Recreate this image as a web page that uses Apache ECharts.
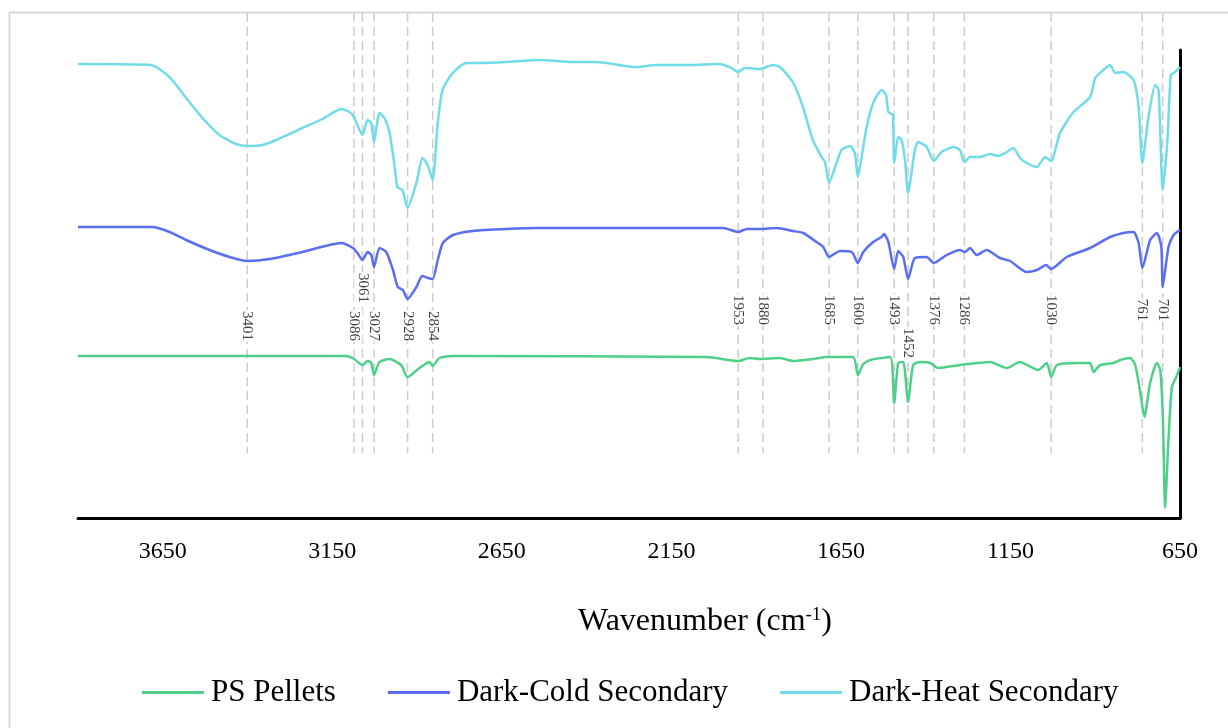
<!DOCTYPE html>
<html>
<head>
<meta charset="utf-8">
<script src="https://cdn.jsdelivr.net/npm/echarts@6/dist/echarts.min.js"></script>
<style>
html,body{margin:0;padding:0;background:#fff;}
#chart{width:1228px;height:728px;}
</style>
</head>
<body>
<div id="chart"></div>
<script>
// ---- data ----
const wavenumberTicks = [650, 1150, 1650, 2150, 2650, 3150, 3650];
const peakWavenumbers = [3401, 3086, 3061, 3027, 2928, 2854, 1953, 1880, 1685, 1600, 1493, 1452, 1376, 1286, 1030, 761, 701];

const psPelletsWn = [3900,3109,3086,3061,3046,3035,3027,3011,2981,2947,2928,2893,2863,2854,2834,2794,2046,1953,1919,1889,1830,1791,1732,1692,1614,1600,1584,1564,1505,1493,1481,1466,1452,1437,1417,1387,1363,1299,1210,1161,1122,1068,1043,1030,1013,954,915,905,885,846,826,797,782,767,755,738,718,708,700,694,684,674,661,650];
const psPelletsVal = [162,162,159,153,157,155,143,156,159,153,141,150,156,152,160,162,161,157,160,159,160,157,159,161,161,143,154,158,161,115,155,156,116,153,156,155,150,153,156,150,156,148,155,141,153,155,155,146,153,155,158,160,153,125,101,135,155,148,95,10,78,131,141,151];

const darkColdWn = [3900,3680,3630,3581,3512,3453,3401,3335,3238,3124,3089,3076,3061,3046,3035,3027,3011,2991,2971,2957,2942,2928,2902,2885,2868,2854,2839,2824,2794,2735,2637,2538,2341,2145,1997,1953,1928,1889,1840,1791,1761,1722,1702,1685,1653,1618,1600,1584,1555,1530,1523,1510,1493,1481,1466,1452,1432,1397,1376,1338,1299,1284,1269,1250,1220,1181,1151,1102,1072,1045,1030,984,915,856,817,787,772,761,738,718,705,701,684,669,650];
const darkColdVal = [291,291,286,278,268,261,257,259,266,275,270,265,258,266,263,251,270,266,248,231,228,219,231,242,240,239,258,275,283,287,289,290,290,290,290,286,289,289,290,287,285,276,271,261,267,266,255,266,276,281,284,276,249,267,261,239,260,261,255,263,268,266,270,263,268,260,257,246,248,253,249,261,270,281,285,286,275,250,278,285,271,231,271,283,288];

const darkHeatWn = [3900,3685,3630,3581,3533,3483,3434,3401,3356,3315,3238,3179,3124,3099,3086,3079,3061,3046,3035,3027,3011,2996,2981,2966,2958,2943,2928,2902,2884,2869,2854,2839,2825,2795,2755,2715,2637,2538,2441,2382,2341,2253,2194,2096,2007,1973,1953,1933,1889,1851,1830,1792,1762,1733,1707,1697,1685,1663,1648,1623,1609,1600,1589,1574,1555,1530,1517,1510,1497,1493,1481,1471,1461,1452,1432,1422,1397,1376,1353,1318,1299,1286,1269,1240,1210,1186,1161,1141,1122,1102,1072,1048,1030,1004,964,915,900,876,856,841,817,787,772,761,743,723,713,701,687,677,664,650];
const darkHeatVal = [454,453,441,420,400,383,374,372,373,378,390,399,409,406,401,395,383,398,395,376,405,400,385,351,331,328,310,335,360,353,338,395,428,445,455,455,456,458,456,456,455,451,453,453,454,450,446,450,449,453,451,436,411,378,361,356,335,355,368,372,365,341,361,391,415,428,423,406,403,355,381,378,358,325,368,376,371,357,366,371,368,356,361,361,364,362,366,370,360,355,351,361,357,385,406,421,440,448,453,445,446,438,411,355,401,433,428,328,378,443,446,451];

const seriesNames = ['PS Pellets', 'Dark-Cold Secondary', 'Dark-Heat Secondary'];

// ---- styles ----
const SERIF = 'Liberation Serif';
const colors = ['#4fd08a', '#5a6ef0', '#70dcea'];
const dashTop = 505, dashBottom = 65;
const labelRow = v => (v === 3061 ? 230 : v === 1452 ? 175 : v > 2800 ? 192 : 208);

const zip = (a, b) => a.map((x, i) => [x, b[i]]);

const curves = [
  zip(psPelletsWn, psPelletsVal),
  zip(darkColdWn, darkColdVal),
  zip(darkHeatWn, darkHeatVal)
].map((d, i) => ({
  name: seriesNames[i],
  type: 'line',
  data: d,
  symbol: 'none',
  smooth: 0.2,
  z: 4,
  lineStyle: { color: colors[i], width: 2.5 },
  itemStyle: { color: colors[i] }
}));

const dashSeries = peakWavenumbers.map(v => ({
  type: 'line',
  data: [[v, dashTop], [v, dashBottom]],
  symbol: 'none',
  clip: false,
  silent: true,
  z: 1,
  lineStyle: { color: '#cccccc', width: 1.5, type: [9, 5] }
}));

const labelSeries = {
  type: 'scatter',
  data: peakWavenumbers.map(v => ({ value: [v, labelRow(v)], name: String(v) })),
  symbolSize: 1,
  itemStyle: { color: 'rgba(0,0,0,0)' },
  silent: true,
  z: 3,
  label: {
    show: true,
    formatter: '{b}',
    position: 'inside',
    rotate: -90,
    fontFamily: SERIF,
    fontSize: 15,
    color: '#111',
    backgroundColor: '#fff',
    padding: [1, 1]
  }
};

const chart = echarts.init(document.getElementById('chart'));
chart.setOption({
  animation: false,
  backgroundColor: '#fff',
  grid: { left: 78, right: 48, top: 50, bottom: 210 },
  xAxis: {
    type: 'value',
    min: 650,
    max: 3900,
    inverse: true,
    axisLine: { onZero: false, lineStyle: { color: '#000', width: 3 } },
    axisTick: { show: false },
    splitLine: { show: false },
    axisLabel: {
      customValues: wavenumberTicks,
      formatter: v => String(v),
      fontFamily: SERIF,
      fontSize: 24,
      color: '#000',
      margin: 22
    }
  },
  yAxis: {
    type: 'value',
    min: 0,
    max: 468,
    position: 'right',
    axisLine: { show: true, lineStyle: { color: '#000', width: 3 } },
    axisTick: { show: false },
    axisLabel: { show: false },
    splitLine: { show: false }
  },
  legend: {
    data: seriesNames,
    icon: 'rect',
    left: 137,
    top: 672,
    itemWidth: 62,
    itemHeight: 3,
    itemGap: 52,
    textStyle: { fontFamily: SERIF, fontSize: 31, color: '#000', padding: [0, 0, 0, 2] }
  },
  graphic: [
    {
      type: 'rect',
      silent: true,
      shape: { x: 9.5, y: 12.5, width: 1240, height: 740 },
      style: { fill: 'none', stroke: '#d9d9d9', lineWidth: 2 }
    },
    {
      type: 'text',
      silent: true,
      x: 705,
      y: 622,
      style: {
        text: '{a|Wavenumber (cm}{s|-1}{a|)}',
        align: 'center',
        verticalAlign: 'middle',
        rich: {
          a: { fontFamily: SERIF, fontSize: 32, color: '#000' },
          s: { fontFamily: SERIF, fontSize: 19, color: '#000', verticalAlign: 'top', padding: [0, 0, 13, 0] }
        }
      }
    }
  ],
  series: [...curves, ...dashSeries, labelSeries]
});
</script>
</body>
</html>
